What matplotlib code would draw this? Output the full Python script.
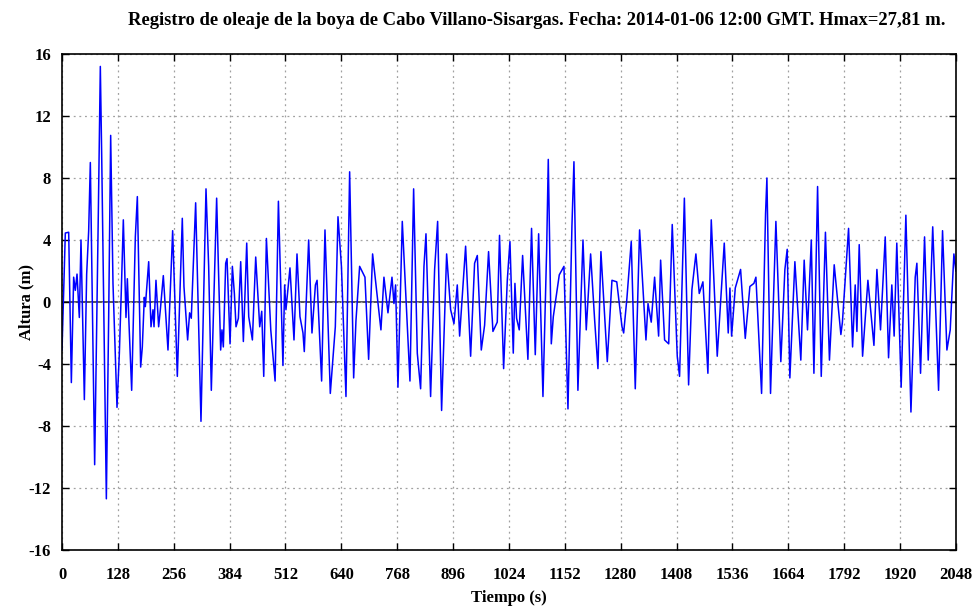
import numpy as np
import matplotlib
matplotlib.use("Agg")
import matplotlib.pyplot as plt

# wave record (time in s, height in m), peaks/troughs
t = [0, 7.6, 15.3, 21.4, 26.7, 30.5, 34.4, 39.7, 43.5, 51.2, 56.5, 61.1, 64.9, 74.8,
     83.2, 87.8, 90.9, 101.6, 106.9, 111.5, 116.8, 126.0, 131.4, 135.9, 140.5, 146.6,
     149.7, 153.5, 159.6, 168.0, 172.6, 180.2, 184.0, 188.6, 190.9, 198.6, 203.9, 208.5,
     210.8, 215.3, 221.4, 225.3, 232.1, 242.8, 253.5,
     264.2, 275.6, 279.4, 287.8, 292.4, 296.2, 306.2, 318.4, 329.9, 336.0, 342.1, 354.3,
     358.1, 363.5, 366.5, 369.6, 375.0, 378.1, 385.0, 390.3, 394.9, 398.7, 404.1, 409.4,
     415.5, 423.2, 427.8, 436.2, 443.8, 453.0, 457.6, 462.2, 468.3, 478.3, 488.2, 495.8,
     506.2,
     510.1, 513.1, 522.3, 531.5, 538.4, 545.2, 552.1, 555.1, 565.1, 572.7, 580.6, 584.4,
     594.8, 602.5, 614.7, 626.2, 632.3, 640.2, 650.6, 659.0, 668.2, 673.5, 681.9, 694.1,
     702.5, 711.6, 730.7, 737.6, 746.8, 756.0, 760.5, 764.3,
     769.7, 779.6, 797.2, 805.6, 814.0, 821.6, 829.3, 833.9, 844.5, 853.7, 860.6, 869.7,
     881.2, 890.4, 898.0, 905.6, 911.0, 919.4, 924.7, 936.2, 945.3, 951.5, 960.6, 968.2,
     977.3, 987.3, 997.2, 1002.4, 1011.8, 1020.2, 1026.3,
     1033.9, 1037.7, 1041.5, 1047.6, 1055.3, 1067.4, 1075.8, 1084.3, 1092.0, 1101.9,
     1110.4, 1114.1, 1121.0, 1125.6, 1133.2, 1139.3, 1150.0, 1159.2, 1168.3, 1172.9,
     1182.0, 1193.6, 1201.1, 1211.1, 1220.3, 1227.9, 1234.7, 1249.3, 1260.0, 1271.0,
     1283.0, 1286.8, 1294.3, 1304.2, 1313.4, 1323.3, 1337.9, 1342.6, 1350.0, 1357.7,
     1366.9, 1371.5, 1380.6, 1390.0, 1398.1, 1409.6, 1414.9, 1425.9, 1435.6, 1443.2,
     1452.3, 1460.0, 1468.4, 1479.8, 1487.5, 1501.2, 1517.3, 1526.4, 1530.3,
     1534.1, 1542.5, 1554.7, 1565.4, 1576.0, 1585.2, 1589.8, 1602.8, 1611.9, 1615.0,
     1623.3, 1635.6, 1646.9, 1656.2, 1661.5, 1667.6, 1679.1, 1692.7, 1700.4, 1708.0,
     1716.7, 1722.7, 1731.1, 1739.5, 1749.1, 1758.3, 1769.2, 1784.5, 1788.0,
     1802.1, 1811.3, 1817.3, 1821.2, 1826.5, 1834.2, 1846.4, 1860.2, 1867.0, 1875.3,
     1886.1, 1893.7, 1901.2, 1906.5, 1912.6, 1922.6, 1933.4, 1945.0, 1954.8, 1958.6,
     1967.0, 1976.2, 1984.6, 1994.9, 2008.3, 2017.4, 2027.4, 2035.0, 2043.4, 2048]

h = [-3.1, 4.45, 4.5, -5.2, 1.6, 0.75, 1.8, -1.0, 4.0, -6.3, 1.8, 4.6, 9.0, -10.5,
     5.7, 15.2, 9.5, -12.7, -1.0, 10.75, 1.2, -6.8, -3.3, 0.75, 5.3, -1.0,
     1.5, -1.4, -5.7, 4.2, 6.8, -4.2, -2.9, 0.3, -0.3, 2.6, -1.6, -0.5,
     -1.6, 1.4, -1.6, -0.5, 1.7, -3.1, 4.6,
     -4.8, 5.4, 1.0, -2.45, -0.7, -1.05, 6.4, -7.7, 7.3, 2.3, -5.7, 6.7,
     2.5, -3.1, -1.8, -2.9, 2.5, 2.8, -2.7, 2.3, 0.55, -1.6, -1.05, 2.6,
     -2.55, 3.8, -0.95, -2.45, 2.9, -1.6, -0.6, -4.8, 4.1, -1.8, -5.1, 6.5,
     -4.1,
     1.1, -0.5, 2.2, -2.45, 3.1, -0.95, -2.0, -3.2, 4.0, -2.0, 1.1, 1.4,
     -5.1, 4.65, -5.9, -1.6, 5.5, 2.3, -6.1, 8.4, -4.9, -1.2, 2.3, 1.6,
     -3.7, 3.1, -1.8, 1.6, -0.7, 1.6, -0.1, 1.1,
     -5.5, 5.2, -5.1, 7.3, -3.3, -5.6, 2.3, 4.4, -6.1, 2.1, 5.2, -7.0,
     3.1, -0.5, -1.4, 1.1, -2.2, 1.3, 3.6, -3.5, 2.5, 3.0, -3.1, -1.5,
     3.25, -1.9, -1.3, 4.3, -4.3, 1.4, 3.9,
     -3.3, 1.2, -1.05, -1.8, 3.0, -3.7, 4.75, -3.4, 4.4, -6.1,
     3.4, 9.2, -2.7, -0.95, 0.55, 1.75, 2.3, -6.9, 4.9, 9.05,
     -5.7, 4.0, -1.8, 3.1, -1.15, -4.3, 3.25, -3.85, 1.4, 1.3,
     -1.6, -2.0, 0.25, 3.9, -5.6, 4.65, -2.45, -0.1, -1.3, 1.6,
     -2.2, 2.7, -2.45, -2.7, 5.0, -3.5, -4.8, 6.7, -5.35, 0.8,
     3.1, 0.55, 1.3, -4.6, 5.3, -3.5, 3.8, -2.0, 0.9,
     -2.2, 0.9, 2.1, -2.35, 1.0, 1.2, 1.6, -5.9, 5.7, 8.0,
     -5.9, 5.2, -3.85, 2.1, 3.4, -4.9, 2.6, -3.75, 2.7, -1.8,
     4.0, -4.6, 7.45, -4.8, 4.5, -3.75, 2.4, -2.1, -1.3,
     4.75, -2.9, 1.1, -1.9, 3.7, -3.5, 1.4, -2.8, 2.1, -1.8,
     4.2, -3.6, 1.1, -2.2, 3.8, -5.5, 5.6, -7.1, 1.6, 2.5,
     -4.6, 4.2, -3.75, 4.85, -5.7, 4.6, -3.1, -1.8, 3.1, 2.0]

xticks = np.arange(0, 2049, 128)
yticks = np.arange(-16, 17, 4)

plt.rcParams["font.family"] = ["Liberation Serif", "DejaVu Serif"]
plt.rcParams["font.weight"] = "bold"
plt.rcParams["axes.unicode_minus"] = False

fig = plt.figure(figsize=(9.78, 6.07), dpi=100)
ax = fig.add_axes([0.0634, 0.094, 0.914, 0.817])

ax.axhline(0, color="#555555", linewidth=1.4, zorder=1)
ax.plot(t, h, color="#0000ff", linewidth=1.1, zorder=2)

ax.set_xlim(0, 2048)
ax.set_ylim(-16, 16)
ax.set_xticks(xticks)
ax.set_yticks(yticks)
ax.grid(True, linestyle=(0, (1.5, 3)), color="#a0a0a0", linewidth=0.9)
ax.tick_params(direction="in", length=5, width=1, top=True, right=True,
               labelsize=12)
ax.tick_params(axis="x", pad=12)
ax.tick_params(axis="y", pad=8)
for lab in ax.get_xticklabels() + ax.get_yticklabels():
    lab.set_fontweight("bold")
for s in ax.spines.values():
    s.set_linewidth(1.2)

ax.set_title("Registro de oleaje de la boya de Cabo Villano-Sisargas. Fecha: 2014-01-06 12:00 GMT. Hmax=27,81 m.",
             fontsize=13.4, fontweight="bold", pad=21, x=0.531)
ax.set_xlabel("Tiempo (s)", fontsize=12, fontweight="bold", labelpad=5)
ax.set_ylabel("Altura (m)", fontsize=12, fontweight="bold", labelpad=-4)

fig.savefig("out.png", dpi=100)
